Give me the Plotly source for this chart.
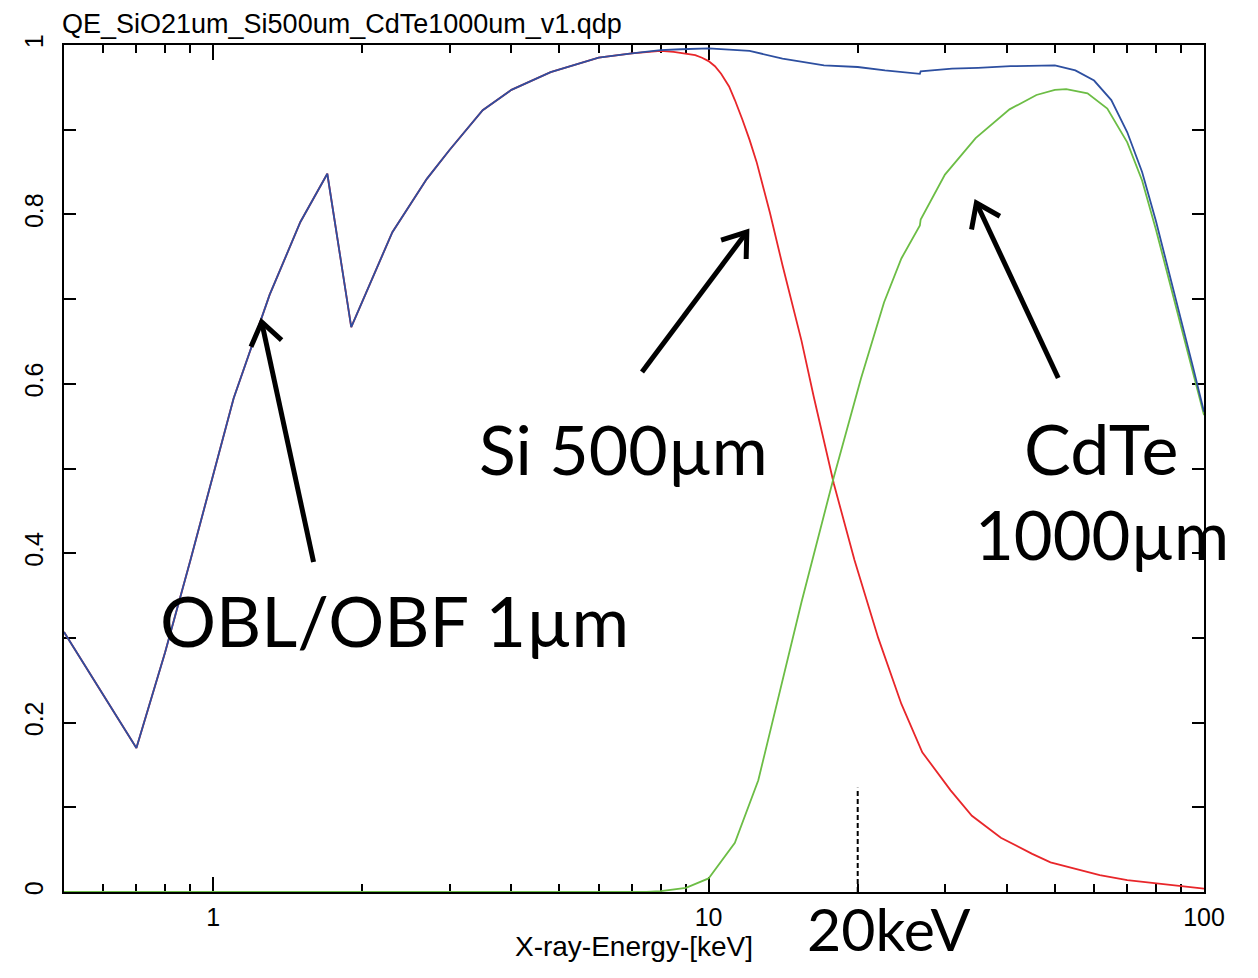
import math
import plotly.graph_objects as go

# ---------------- data ----------------
total_energy = [0.5, 0.7, 0.8, 0.9, 1.1, 1.3, 1.5, 1.7, 1.9, 2.3, 2.7, 3.0, 3.5, 4.0, 4.8,
                6.0, 7.0, 8.0, 8.8, 10.0, 12.1, 14.1, 17.1, 20.0, 22.7, 26.7, 26.8, 31.0,
                35.0, 40.7, 50.0, 55.0, 60.0, 65.0, 70.0, 75.0, 80.0, 85.0, 90.0, 95.0, 100.0]
total_qe = [0.307, 0.170, 0.283, 0.392, 0.583, 0.705, 0.791, 0.848, 0.667, 0.779, 0.842, 0.876,
            0.923, 0.947, 0.968, 0.985, 0.990, 0.994, 0.995, 0.996, 0.993, 0.984, 0.976, 0.974,
            0.970, 0.966, 0.969, 0.972, 0.973, 0.975, 0.976, 0.970, 0.958, 0.935, 0.897,
            0.850, 0.792, 0.732, 0.676, 0.620, 0.567]

si_energy = [0.5, 0.7, 0.8, 0.9, 1.1, 1.3, 1.5, 1.7, 1.9, 2.3, 2.7, 3.0, 3.5, 4.0, 4.8,
             6.0, 7.0, 8.0, 8.5, 9.0, 9.4, 9.7, 10.0, 10.3, 10.6, 11.0, 11.3, 11.7, 12.1, 12.5,
             13.3, 14.1, 15.4, 16.3, 17.9, 19.7, 22.0, 24.5, 27.0, 30.8, 34.0, 38.9, 45.0,
             49.0, 55.0, 61.6, 70.0, 77.6, 88.0, 100.0]
si_qe = [0.307, 0.170, 0.283, 0.392, 0.583, 0.705, 0.791, 0.848, 0.667, 0.779, 0.842, 0.876,
         0.923, 0.947, 0.968, 0.985, 0.990, 0.993, 0.992, 0.990, 0.988, 0.985, 0.981, 0.975,
         0.966, 0.951, 0.935, 0.912, 0.888, 0.862, 0.802, 0.740, 0.651, 0.585, 0.482, 0.392,
         0.300, 0.222, 0.165, 0.120, 0.090, 0.064, 0.045, 0.035, 0.027, 0.020, 0.014, 0.011,
         0.007, 0.004]

cdte_energy = [0.5, 1.0, 2.0, 5.0, 7.5, 8.0, 9.0, 10.0, 11.3, 12.6, 13.8, 15.4, 17.9, 20.3,
               22.6, 24.5, 26.7, 26.8, 30.0, 34.6, 40.5, 45.9, 50.0, 52.7, 58.2, 63.8, 70.0,
               75.0, 80.0, 85.0, 90.0, 95.0, 100.0]
cdte_qe = [0.0, 0.0, 0.0, 0.0, 0.0, 0.001, 0.005, 0.016, 0.058, 0.132, 0.227, 0.342, 0.490,
           0.606, 0.696, 0.748, 0.787, 0.794, 0.847, 0.890, 0.924, 0.941, 0.947, 0.948,
           0.943, 0.925, 0.885, 0.840, 0.782, 0.722, 0.668, 0.614, 0.563]

marker_energy = 20.0
marker_top = 0.123

x_tick_vals = [1, 10, 100]
x_tick_text = ["1", "10", "100"]
x_minor_vals = [0.6, 0.7, 0.8, 0.9, 2, 3, 4, 5, 6, 7, 8, 9, 20, 30, 40, 50, 60, 70, 80, 90]
y_tick_vals = [0, 0.2, 0.4, 0.6, 0.8, 1.0]
y_tick_text = ["0", "0.2", "0.4", "0.6", "0.8", "1"]
y_minor_vals = [0.1, 0.3, 0.5, 0.7, 0.9]

title_text = "QE_SiO21um_Si500um_CdTe1000um_v1.qdp"
x_title = "X-ray-Energy-[keV]"

# ---------------- layout geometry ----------------
OFF = 8                      # default body margin of the html page
W, H = 1258 - OFF, 978 - OFF
PW, PH = 1142, 847
ML, MT = 62 - OFF, 45 - OFF
MR, MB = W - ML - PW, H - MT - PH


def paper(px, py):
    """page pixel -> paper coordinates"""
    return (px - OFF - ML) / PW, (MT + PH - (py - OFF)) / PH


AX_FONT = "Liberation Sans, Arial, sans-serif"
BIG_FONT = "Lato, Noto Sans, sans-serif"

fig = go.Figure()
fig.add_trace(go.Scatter(x=si_energy, y=si_qe, mode="lines",
                         line=dict(color="#e8262a", width=1.8), hoverinfo="skip"))
fig.add_trace(go.Scatter(x=cdte_energy, y=cdte_qe, mode="lines",
                         line=dict(color="#6cbd45", width=1.8), hoverinfo="skip"))
fig.add_trace(go.Scatter(x=total_energy, y=total_qe, mode="lines",
                         line=dict(color="#2d4fa0", width=1.8), hoverinfo="skip"))
fig.add_trace(go.Scatter(x=[marker_energy, marker_energy], y=[0, marker_top], mode="lines",
                         line=dict(color="black", width=2, dash="5px,3px"), hoverinfo="skip"))

# ---------------- arrows (shaft + open chevron head) ----------------
arrows = [((312, 562), (260, 322)), ((641, 372), (746, 232)), ((1058, 378), (976, 203))]
shapes = []
for (tx, ty), (hx, hy) in arrows:
    x0, y0 = paper(tx, ty)
    x1, y1 = paper(hx, hy)
    shapes.append(dict(type="line", xref="paper", yref="paper", x0=x0, y0=y0, x1=x1, y1=y1,
                       line=dict(color="black", width=5)))
    ang = math.atan2(ty - hy, tx - hx)
    arm = 27
    pts = []
    for d in (-0.62, 0.62):
        ax = hx + arm * math.cos(ang + d)
        ay = hy + arm * math.sin(ang + d)
        pts.append(paper(ax, ay))
    hp = paper(hx, hy)
    path = "M {:.5f},{:.5f} L {:.5f},{:.5f} L {:.5f},{:.5f}".format(
        pts[0][0], pts[0][1], hp[0], hp[1], pts[1][0], pts[1][1])
    shapes.append(dict(type="path", xref="paper", yref="paper", path=path,
                       line=dict(color="black", width=5)))

# ---------------- annotations ----------------
annotations = []


def add_text(text, px, py, size, xanchor="left", family=BIG_FONT):
    x, y = paper(px, py)
    annotations.append(dict(text=text, x=x, y=y, xref="paper", yref="paper",
                            xanchor=xanchor, yanchor="middle", showarrow=False,
                            font=dict(family=family, size=size, color="black")))


add_text("Si 500µm", 476, 448, 68)
add_text("OBL/OBF 1µm", 156, 620, 70)
add_text("CdTe", 1101, 448, 70, xanchor="center")
add_text("1000µm", 1102, 534, 67, xanchor="center")
add_text("20keV", 804, 928, 59)

annotations.append(dict(text=title_text, x=0, y=1, xref="paper", yref="paper",
                        xanchor="left", yanchor="bottom", yshift=4, xshift=-4,
                        showarrow=False,
                        font=dict(family=AX_FONT, size=27, color="black")))

fig.update_layout(
    width=W, height=H,
    margin=dict(l=ML, r=MR, t=MT, b=MB, pad=0),
    paper_bgcolor="white", plot_bgcolor="white",
    showlegend=False, hovermode=False,
    shapes=shapes, annotations=annotations,
    font=dict(family=AX_FONT, size=24, color="black"),
)

fig.update_xaxes(
    type="log", range=[math.log10(0.5), 2],
    tickvals=x_tick_vals, ticktext=x_tick_text,
    ticks="inside", ticklen=15, tickwidth=1.5, tickcolor="black",
    showline=True, linecolor="black", linewidth=2, mirror="ticks",
    showgrid=False, zeroline=False, layer="below traces",
    tickfont=dict(family=AX_FONT, size=25, color="black"),
    ticklabelstandoff=2,
    minor=dict(tickvals=x_minor_vals, ticks="inside", ticklen=8, tickwidth=1.5,
               tickcolor="black", showgrid=False),
    title=dict(text=x_title, font=dict(family=AX_FONT, size=28, color="black"), standoff=4),
)

fig.update_yaxes(
    range=[0, 1],
    tickvals=y_tick_vals, ticktext=y_tick_text, tickangle=-90,
    ticks="inside", ticklen=12, tickwidth=1.5, tickcolor="black",
    showline=True, linecolor="black", linewidth=2, mirror="ticks",
    showgrid=False, zeroline=False, layer="below traces",
    tickfont=dict(family=AX_FONT, size=25, color="black"),
    ticklabelstandoff=9,
    minor=dict(tickvals=y_minor_vals, ticks="inside", ticklen=12, tickwidth=1.5,
               tickcolor="black", showgrid=False),
)

fig.write_html("out.html")
